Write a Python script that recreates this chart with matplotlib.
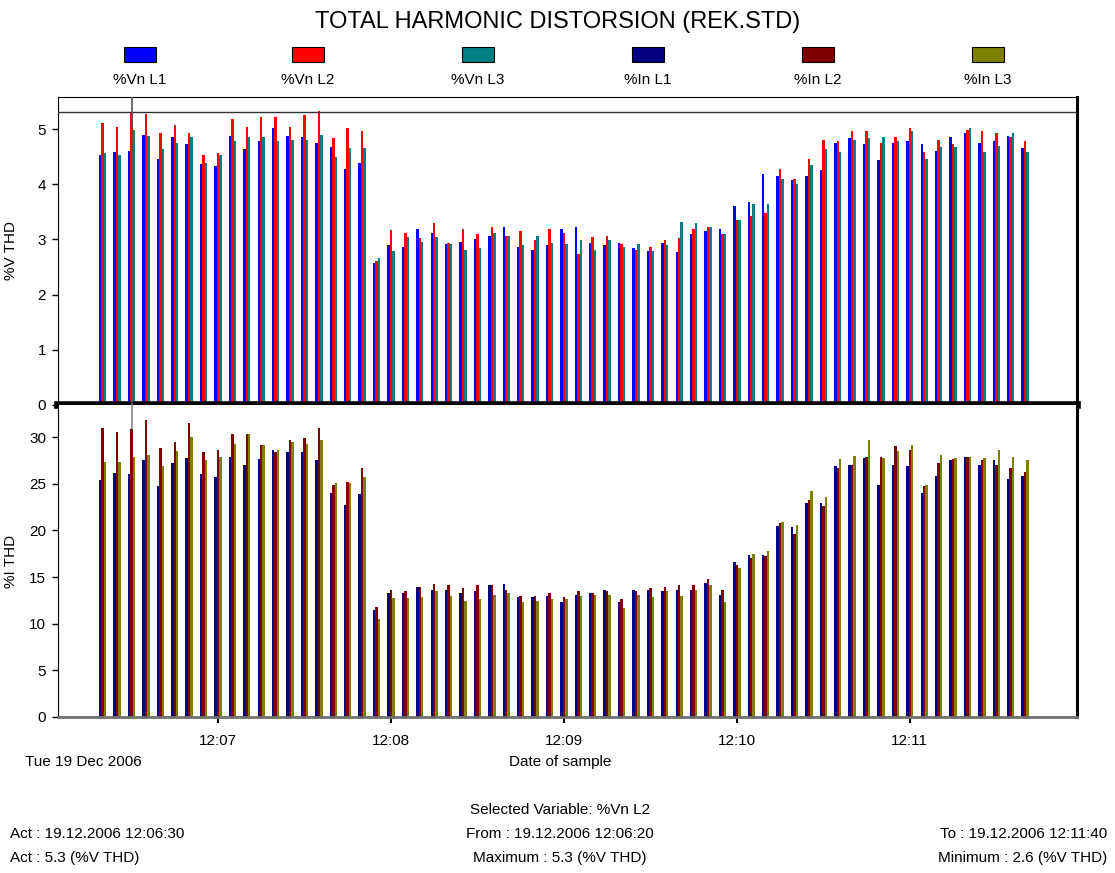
import numpy as np
import pandas as pd
import matplotlib
matplotlib.use("Agg")
import matplotlib.pyplot as plt
import matplotlib.dates as mdates
from matplotlib.patches import Rectangle

plt.rcParams['font.family'] = ['Liberation Sans', 'DejaVu Sans']

# one sample every 5 seconds, 12:06:20 .. 12:11:40
times = pd.date_range("2006-12-19 12:06:20", "2006-12-19 12:11:40", freq="5s")

# voltage THD (%V THD)
vn_l1 = [4.53, 4.58, 4.60, 4.90, 4.45, 4.86, 4.73, 4.36, 4.33, 4.88, 4.63,
         4.78, 5.01, 4.88, 4.86, 4.75, 4.68, 4.28, 4.38, 2.57, 2.89, 2.87,
         3.19, 3.12, 2.92, 2.96, 3.00, 3.07, 3.22, 2.87, 2.81, 2.89, 3.19,
         3.22, 2.94, 2.89, 2.94, 2.84, 2.79, 2.94, 2.77, 3.09, 3.15, 3.19,
         3.60, 3.67, 4.18, 4.15, 4.08, 4.15, 4.25, 4.75, 4.83, 4.73, 4.43,
         4.75, 4.78, 4.73, 4.60, 4.86, 4.93, 4.75, 4.78, 4.88, 4.66]
vn_l2 = [5.10, 5.03, 5.30, 5.27, 4.93, 5.08, 4.93, 4.53, 4.56, 5.18, 5.03,
         5.21, 5.21, 5.03, 5.26, 5.33, 4.83, 5.01, 4.96, 2.61, 3.17, 3.12,
         3.02, 3.30, 2.94, 3.19, 3.09, 3.22, 3.07, 3.15, 2.99, 3.19, 3.12,
         2.74, 3.04, 3.07, 2.92, 2.81, 2.87, 2.99, 3.02, 3.19, 3.22, 3.09,
         3.35, 3.42, 3.47, 4.28, 4.10, 4.45, 4.81, 4.78, 4.96, 4.96, 4.75,
         4.86, 5.01, 4.58, 4.81, 4.73, 4.98, 4.96, 4.93, 4.86, 4.78]
vn_l3 = [4.56, 4.53, 4.98, 4.88, 4.63, 4.75, 4.86, 4.38, 4.53, 4.78, 4.86,
         4.86, 4.78, 4.81, 4.81, 4.90, 4.50, 4.66, 4.66, 2.66, 2.79, 3.05,
         2.96, 3.04, 2.92, 2.81, 2.84, 3.12, 3.07, 2.89, 3.07, 2.94, 2.92,
         2.99, 2.81, 2.99, 2.87, 2.92, 2.79, 2.89, 3.32, 3.30, 3.22, 3.09,
         3.35, 3.65, 3.65, 4.10, 4.00, 4.35, 4.63, 4.58, 4.81, 4.83, 4.86,
         4.78, 4.96, 4.45, 4.68, 4.68, 5.01, 4.58, 4.70, 4.93, 4.58]

# current THD (%I THD)
in_l1 = [25.4, 26.1, 26.0, 27.5, 24.8, 27.2, 27.8, 26.0, 25.7, 27.9, 27.0,
         27.6, 28.6, 28.4, 28.4, 27.5, 24.0, 22.7, 23.9, 11.5, 13.3, 13.3,
         13.9, 13.6, 13.6, 13.3, 13.5, 14.1, 14.2, 12.9, 12.9, 13.0, 12.3,
         13.1, 13.3, 13.6, 12.3, 13.6, 13.6, 13.5, 13.6, 13.6, 14.4, 13.1,
         16.6, 17.4, 17.4, 20.5, 20.4, 22.9, 22.9, 26.9, 27.0, 27.8, 24.9,
         27.0, 26.9, 24.0, 25.8, 27.5, 27.9, 27.0, 27.5, 25.5, 25.8]
in_l2 = [31.0, 30.5, 30.9, 31.8, 28.8, 29.5, 31.5, 28.4, 28.6, 30.3, 30.3,
         29.1, 28.4, 29.7, 29.9, 31.0, 24.9, 25.2, 26.7, 11.8, 13.6, 13.5,
         13.9, 14.2, 14.1, 13.8, 14.1, 14.1, 13.6, 13.0, 13.0, 13.3, 12.9,
         13.5, 13.3, 13.5, 12.6, 13.5, 13.8, 13.9, 14.1, 14.1, 14.8, 13.6,
         16.3, 17.0, 17.2, 20.8, 19.6, 23.3, 22.6, 26.7, 27.0, 27.9, 27.9,
         29.0, 28.6, 24.8, 27.2, 27.6, 27.9, 27.5, 27.0, 26.7, 26.3]
in_l3 = [27.3, 27.3, 27.9, 28.1, 26.9, 28.5, 30.0, 27.5, 27.9, 29.3, 30.3,
         29.1, 28.6, 29.5, 29.3, 29.7, 25.1, 25.1, 25.7, 10.5, 12.7, 12.7,
         12.9, 13.5, 13.0, 12.4, 12.6, 13.1, 13.3, 12.3, 12.4, 12.6, 12.6,
         13.0, 13.1, 13.1, 11.7, 13.1, 12.9, 13.5, 13.0, 13.6, 14.1, 12.3,
         16.0, 17.5, 17.8, 20.9, 20.6, 24.2, 23.6, 27.6, 28.0, 29.7, 27.8,
         28.5, 29.1, 24.9, 28.1, 27.8, 27.9, 27.8, 28.6, 27.9, 27.5]

v_labels = ["%Vn L1", "%Vn L2", "%Vn L3"]
i_labels = ["%In L1", "%In L2", "%In L3"]
v_colors = ["#0000ff", "#ff0000", "#008080"]
i_colors = ["#000080", "#800000", "#808000"]

v_ticks = [0, 1, 2, 3, 4, 5]
i_ticks = [0, 5, 10, 15, 20, 25, 30]
minute_ticks = ["12:07", "12:08", "12:09", "12:10", "12:11"]
cursor_time = "2006-12-19 12:06:30"
max_line = 5.3

W, H = 1115, 873
fig = plt.figure(figsize=(W / 100, H / 100), dpi=100)


def fx(px):
    return px / W


def fy(py):
    return 1 - py / H


x = mdates.date2num(times)
sec = 1 / 86400.0
bw = 0.85 * sec  # roughly 2.5 px per bar
x0 = mdates.date2num(pd.Timestamp("2006-12-19 12:06:20"))
xlim = (x0 - 15.5 * sec, x0 + 338 * sec)

ax1 = fig.add_axes([fx(58), fy(405), fx(1077 - 58), (405 - 97) / H])
ax2 = fig.add_axes([fx(58), fy(717), fx(1077 - 58), (717 - 405) / H])

for k, (vals, c) in enumerate(zip([vn_l1, vn_l2, vn_l3], v_colors)):
    ax1.bar(x + (k - 1) * bw, vals, width=bw, color=c, linewidth=0,
            antialiased=False, zorder=2)
for k, (vals, c) in enumerate(zip([in_l1, in_l2, in_l3], i_colors)):
    ax2.bar(x + (k - 1) * bw, vals, width=bw, color=c, linewidth=0,
            antialiased=False, zorder=2)

ax1.set_ylim(0, 5.58)
ax2.set_ylim(0, 33.43)
for ax in (ax1, ax2):
    ax.set_xlim(xlim)
    ax.tick_params(axis='y', direction='out', length=4.5, width=1,
                   labelsize=11, pad=4)

ax1.set_yticks(v_ticks)
ax2.set_yticks(i_ticks)
ax1.set_xticks([])

tick_pos = [mdates.date2num(pd.Timestamp("2006-12-19 " + t)) for t in minute_ticks]
ax2.set_xticks(tick_pos)
ax2.set_xticklabels(minute_ticks)
ax2.tick_params(axis='x', direction='out', length=4, width=1.5, labelsize=11, pad=8)

ax1.set_ylabel("%V THD", fontsize=11)
ax2.set_ylabel("%I THD", fontsize=11)
ax1.yaxis.set_label_coords((18 - 58) / 1019, 0.5)
ax2.yaxis.set_label_coords((18 - 58) / 1019, 0.5)

# spines
for sp in ax1.spines.values():
    sp.set_linewidth(0.8)
ax1.spines['bottom'].set_linewidth(5.5)
ax1.spines['bottom'].set_color('black')
ax2.spines['top'].set_visible(False)
ax2.spines['left'].set_linewidth(0.8)
ax2.spines['right'].set_linewidth(2.2)
ax1.spines['right'].set_linewidth(2.2)
ax2.spines['bottom'].set_color('#707070')
ax2.spines['bottom'].set_linewidth(2)

# max marker and cursor
ax1.axhline(max_line, color='#303030', linewidth=1, zorder=3)
cx = mdates.date2num(pd.Timestamp(cursor_time))
ax1.axvline(cx, color='#555555', linewidth=1.2, zorder=3)
ax2.axvline(cx, color='#888888', linewidth=1.2, zorder=1)

# title and legend
fig.text(0.5, fy(22), "TOTAL HARMONIC DISTORSION (REK.STD)", ha='center',
         va='center', fontsize=17)
legend_x = [140, 308, 478, 648, 818, 988]
for lx, lab, c in zip(legend_x, v_labels + i_labels, v_colors + i_colors):
    fig.add_artist(Rectangle((fx(lx - 16), fy(62)), fx(32), 15 / H,
                             facecolor=c, edgecolor='black', linewidth=0.8,
                             transform=fig.transFigure))
    fig.text(fx(lx), fy(80), lab, ha='center', va='center', fontsize=11)

fig.text(fx(25), fy(762), "Tue 19 Dec 2006", ha='left', va='center', fontsize=11)
fig.text(fx(560), fy(762), "Date of sample", ha='center', va='center', fontsize=11)

fig.text(fx(560), fy(810), "Selected Variable: %Vn L2", ha='center', va='center', fontsize=11)
fig.text(fx(10), fy(834), "Act : 19.12.2006 12:06:30", ha='left', va='center', fontsize=11)
fig.text(fx(560), fy(834), "From : 19.12.2006 12:06:20", ha='center', va='center', fontsize=11)
fig.text(fx(1107), fy(834), "To : 19.12.2006 12:11:40", ha='right', va='center', fontsize=11)
fig.text(fx(10), fy(858), "Act : 5.3 (%V THD)", ha='left', va='center', fontsize=11)
fig.text(fx(560), fy(858), "Maximum : 5.3 (%V THD)", ha='center', va='center', fontsize=11)
fig.text(fx(1107), fy(858), "Minimum : 2.6 (%V THD)", ha='right', va='center', fontsize=11)

fig.savefig("out.png", dpi=100)
